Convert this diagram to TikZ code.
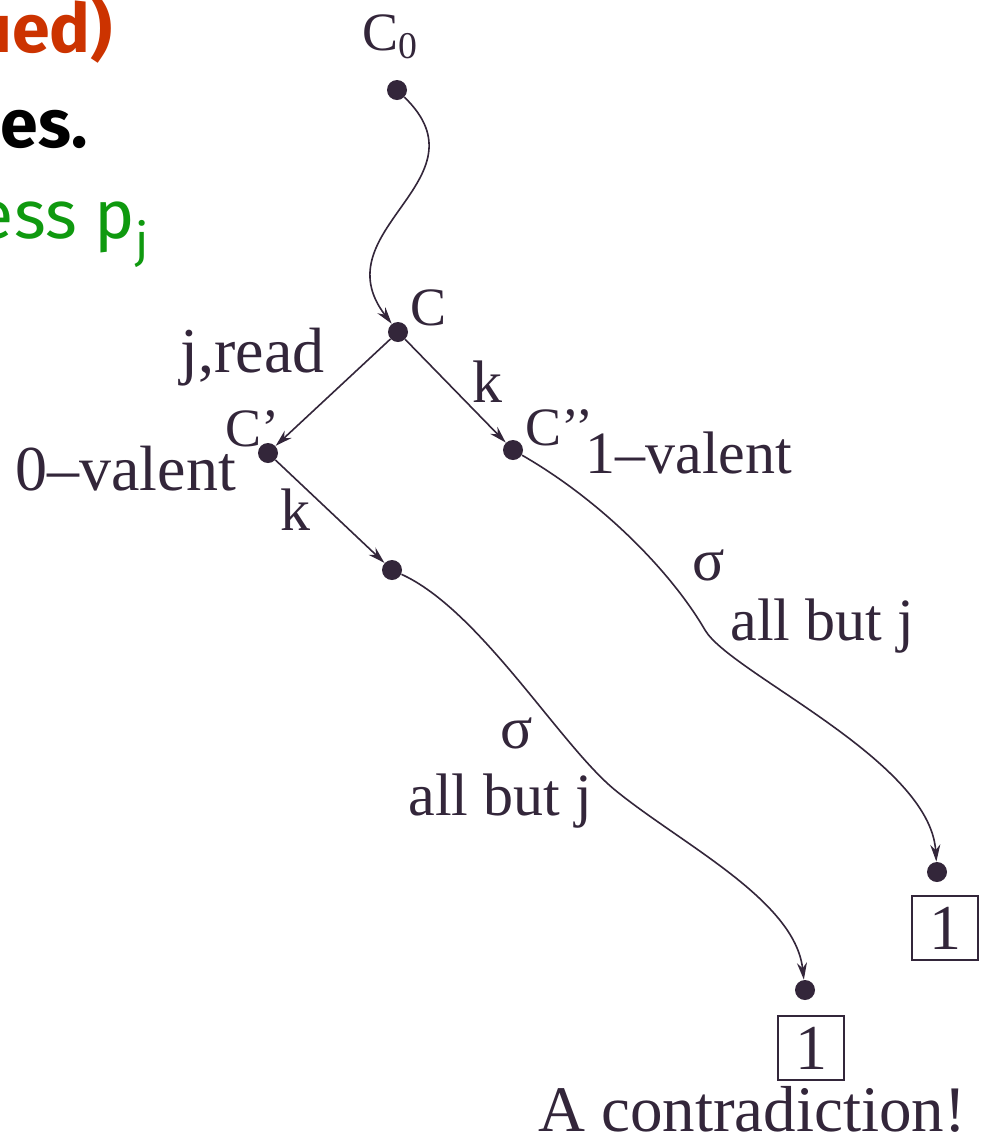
\documentclass[tikz,border=0pt]{standalone}
\usepackage{fontspec}
\setmainfont{Liberation Serif}
\newfontfamily\slidefont{Fira Sans}
\usepackage{tikz}
\usetikzlibrary{arrows.meta}
\definecolor{ink}{HTML}{33263A}
\definecolor{rust}{HTML}{CC3300}
\definecolor{leaf}{HTML}{0F990F}

\begin{document}
\begin{tikzpicture}[
  x=0.5pt, y=-0.5pt,
  >={Stealth[length=8.5pt,width=5pt]},
  dot/.style    = {circle, fill=ink, inner sep=0pt, minimum size=10pt},
  lbl/.style    = {font=\fontsize{30}{32}\selectfont, text=ink, inner sep=0pt,
                   anchor=base west},
  cname/.style  = {lbl, font=\fontsize{27}{30}\selectfont},
  outbox/.style = {draw=ink, line width=0.6pt, font=\fontsize{32}{34}\selectfont,
                   text=ink, minimum width=33pt, minimum height=32pt, inner sep=0pt},
  move/.style   = {->, draw=ink, line width=0.8pt},
  slide/.style  = {font=\slidefont\fontsize{34}{36}\selectfont, inner sep=0pt,
                   anchor=base east},
  slidebf/.style= {slide, font=\slidefont\bfseries\fontsize{34}{36}\selectfont},
]

% ---- page -------------------------------------------------------------
\fill[white] (0,0) rectangle (986,1137);
\useasboundingbox (0,0) rectangle (986,1137);

% ---- slide text, cut at the left edge --------------------------------
\node[slidebf, text=rust]  at (113, 52) (ttl)  {ued)};
\node[slidebf, text=black] at ( 88,147) (line) {es.};
\node[slide, text=leaf]    at (150,238) (proc) {ess p\textsubscript{j}};

% ---- configurations ---------------------------------------------------
\node[dot] at (397, 90) (c0) {};
\node[dot] at (398,332) (c)  {};
\node[dot] at (268,453) (c1) {};
\node[dot] at (513,450) (c2) {};
\node[dot] at (392,570) (d)  {};
\node[dot] at (937,872) (e)  {};
\node[dot] at (805,990) (f)  {};

\node[outbox] at (945,928)  (res1) {1};
\node[outbox] at (811,1048) (res2) {1};

% ---- labels -----------------------------------------------------------
\node[cname] at (362, 50) (lc0) {C\textsubscript{0}};
\node[cname] at (410,325) (lc)  {C};
\node[lbl, anchor=base east, font=\fontsize{32}{34}\selectfont] at (325,372) (lread) {j,read};
\node[cname] at (225,446) (lc1) {C’};
\node[lbl, font=\fontsize{32}{34}\selectfont] at ( 15,490) (lzero) {0–valent};
\node[lbl]   at (472,402) (lk1) {k};
\node[cname] at (525,445) (lc2) {C’’};
\node[lbl]   at (585,473) (lone) {1–valent};
\node[lbl]   at (280,530) (lk2) {k};
\node[lbl]   at (692,580) (ls1) {σ};
\node[lbl]   at (730,640) (lall1) {all but j};
\node[lbl]   at (500,748) (ls2) {σ};
\node[lbl]   at (408,815) (lall2) {all but j};
\node[lbl, font=\fontsize{32.5}{34}\selectfont, anchor=base] at (752,1131) (lcontra)
  {A contradiction!};

% ---- moves ------------------------------------------------------------
\draw[move] (c0) .. controls +(93,90) and +(-78,-102) .. (c);
\draw[move] (c) -- (c1);
\draw[move] (c) -- (c2);
\draw[move] (c1) -- (d);

\coordinate (bend1) at (705,630);
\draw[move] (c2) .. controls +(87,50) and +(-35,-60) .. (bend1)
                 .. controls +(25,43) and +(-7,-112) .. (e);
\coordinate (bend2) at (615,790);
\draw[move] (d) .. controls +(88,40) and +(-55,-45) .. (bend2)
                .. controls +(66,54) and +(-10,-90) .. (f);

\end{tikzpicture}
\end{document}
